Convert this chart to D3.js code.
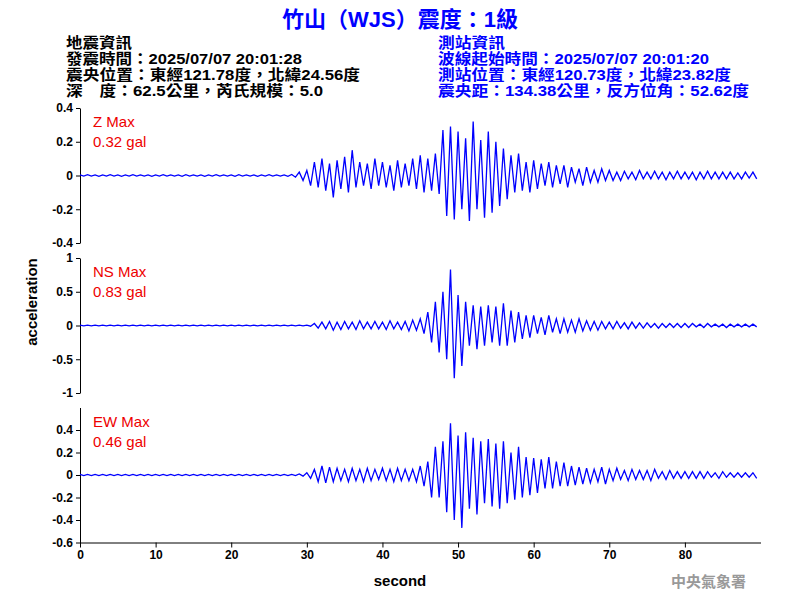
<!DOCTYPE html>
<html><head><meta charset="utf-8">
<script src="https://cdn.jsdelivr.net/npm/d3@7"></script>
<style>body{margin:0;background:#fff}svg{font-family:"Liberation Sans",Arial,"Noto Sans CJK TC",sans-serif}</style>
</head><body><svg id="c" width="800" height="600"></svg>
<script>
const xTicks=[0,10,20,30,40,50,60,70,80];
const dt=0.5;
// peak accelerations, two samples per second (gal)
const zVals=[
.004,-.003,.005,-.004,.003,-.005,.004,-.004,.005,-.003,.004,-.005,.003,-.004,.005,-.003,.004,-.004,.003,-.005,
.004,-.003,.005,-.004,.003,-.004,.004,-.005,.005,-.003,.004,-.004,.003,-.005,.004,-.003,.005,-.004,.003,-.004,
.004,-.005,.005,-.003,.004,-.004,.003,-.005,.004,-.003,.005,-.004,.003,-.004,.004,-.005,.006,-.01,.02,-.03,
.03,-.06,.08,-.07,.1,-.09,.07,-.13,.09,-.08,.11,-.1,.15,-.07,.08,-.06,.07,-.08,.1,-.06,
.08,-.07,.06,-.09,.09,-.07,.07,-.06,.1,-.08,.12,-.1,.1,-.09,.13,-.11,.27,-.24,.29,-.26,
.26,-.2,.22,-.27,.32,-.2,.21,-.25,.26,-.22,.2,-.18,.16,-.14,.12,-.1,.13,-.09,.08,-.1,
.09,-.08,.07,-.06,.08,-.07,.06,-.05,.06,-.07,.05,-.04,.04,-.06,.05,-.04,.03,-.04,.04,-.03,
.03,-.03,.02,-.03,.025,-.02,.02,-.025,.03,-.02,.02,-.02,.025,-.02,.02,-.025,.02,-.02,.025,-.02,
.02,-.02,.02,-.025,.02,-.02,.025,-.02,.02,-.02,.02,-.02,.02,-.02,.015,-.02,.02,-.015,.02,-.02];
const nsVals=[
.005,-.004,.004,-.005,.005,-.004,.004,-.005,.005,-.004,.004,-.005,.005,-.004,.004,-.005,.005,-.004,.004,-.005,
.005,-.004,.004,-.005,.005,-.004,.004,-.005,.005,-.004,.004,-.005,.005,-.004,.004,-.005,.005,-.004,.004,-.005,
.005,-.004,.004,-.005,.005,-.004,.004,-.005,.005,-.004,.004,-.005,.005,-.004,.004,-.005,.005,-.004,.004,-.005,
.006,-.01,.03,-.04,.05,-.05,.06,-.07,.05,-.06,.06,-.05,.05,-.06,.07,-.05,.05,-.05,.06,-.05,
.05,-.06,.07,-.05,.05,-.06,.06,-.08,.08,-.07,.1,-.12,.2,-.25,.35,-.4,.5,-.5,.83,-.78,
.45,-.6,.35,-.3,.3,-.35,.28,-.3,.3,-.25,.28,-.3,.33,-.3,.22,-.25,.2,-.2,.15,-.18,
.15,-.12,.12,-.14,.15,-.1,.1,-.12,.1,-.1,.08,-.1,.1,-.08,.07,-.07,.06,-.07,.06,-.05,
.05,-.05,.06,-.04,.04,-.05,.05,-.04,.04,-.04,.04,-.03,.03,-.04,.03,-.03,.03,-.03,.03,-.03,
.03,-.03,.03,-.02,.02,-.03,.03,-.02,.02,-.02,.02,-.03,.02,-.02,.02,-.02,.02,-.02,.02,-.02];
const ewVals=[
.006,-.005,.005,-.006,.006,-.005,.005,-.006,.006,-.005,.005,-.006,.006,-.005,.005,-.006,.006,-.005,.005,-.006,
.006,-.005,.005,-.006,.006,-.005,.005,-.006,.006,-.005,.005,-.006,.006,-.005,.005,-.006,.006,-.005,.005,-.006,
.006,-.005,.005,-.006,.006,-.005,.005,-.006,.006,-.005,.005,-.006,.006,-.005,.005,-.006,.006,-.005,.01,-.01,
.02,-.03,.05,-.06,.08,-.07,.07,-.06,.06,-.05,.05,-.06,.06,-.05,.05,-.06,.06,-.05,.05,-.04,
.06,-.05,.05,-.06,.06,-.05,.05,-.05,.05,-.06,.08,-.1,.12,-.2,.25,-.2,.3,-.33,.46,-.4,
.35,-.47,.38,-.3,.33,-.35,.3,-.25,.32,-.28,.28,-.3,.3,-.25,.2,-.22,.25,-.2,.16,-.18,
.15,-.16,.14,-.12,.16,-.12,.12,-.1,.11,-.1,.08,-.09,.07,-.08,.06,-.07,.05,-.06,.07,-.08,
.05,-.05,.06,-.04,.04,-.05,.05,-.04,.04,-.04,.04,-.05,.05,-.03,.03,-.04,.04,-.03,.03,-.03,
.03,-.03,.03,-.03,.03,-.03,.03,-.02,.02,-.03,.03,-.02,.02,-.02,.02,-.02,.02,-.02,.02,-.03];
const panels=[
 {name:"Z Max",max:"0.32 gal",vals:zVals,dom:[-0.4,0.4],ticks:[-0.4,-0.2,0,0.2,0.4],top:108,bot:243},
 {name:"NS Max",max:"0.83 gal",vals:nsVals,dom:[-1,1],ticks:[-1,-0.5,0,0.5,1],top:258,bot:393},
 {name:"EW Max",max:"0.46 gal",vals:ewVals,dom:[-0.6,0.6],ticks:[-0.6,-0.4,-0.2,0,0.2,0.4],top:407.5,bot:542.5}
];
const svg=d3.select("#c");
const x=d3.scaleLinear().domain([0,90]).range([80,760.5]);
svg.append("text").attr("x",400).attr("y",27).attr("text-anchor","middle").attr("fill","#0000ff")
 .attr("font-size",22).attr("font-weight","bold").text("竹山（WJS）震度：1級");
const left=["地震資訊","發震時間：2025/07/07 20:01:28","震央位置：東經121.78度，北緯24.56度","深　度：62.5公里，芮氏規模：5.0"];
const right=["測站資訊","波線起始時間：2025/07/07 20:01:20","測站位置：東經120.73度，北緯23.82度","震央距：134.38公里，反方位角：52.62度"];
const leftW=[66,236,294,257], rightW=[67,271,293,311];
left.forEach((t,i)=>svg.append("text").attr("x",66).attr("y",48+i*16).attr("font-size",14.5).attr("font-weight","bold")
 .attr("textLength",leftW[i]).attr("lengthAdjust","spacingAndGlyphs").attr("fill","#000").text(t));
right.forEach((t,i)=>svg.append("text").attr("x",438).attr("y",48+i*16).attr("font-size",14.5).attr("font-weight","bold")
 .attr("textLength",rightW[i]).attr("lengthAdjust","spacingAndGlyphs").attr("fill","#0000ff").text(t));
panels.forEach((p,k)=>{
 const y=d3.scaleLinear().domain(p.dom).range([p.bot,p.top]);
 const g=svg.append("g").attr("transform","translate(80,0)");
 g.call(d3.axisLeft(y).tickValues(p.ticks).tickFormat(d=>String(d)).tickSize(4).tickSizeOuter(0));
 g.selectAll("text").attr("font-size",12).attr("font-weight","bold").attr("fill","#000").attr("font-family","Liberation Sans");
 const line=d3.line().x((d,i)=>x(i*dt)).y(d=>y(d));
 svg.append("path").datum(p.vals).attr("d",line).attr("fill","none").attr("stroke","#0000ff").attr("stroke-width",1.3);
 svg.append("text").attr("x",93).attr("y",p.top+19).attr("fill","#ee0000").attr("font-size",15).text(p.name);
 svg.append("text").attr("x",93).attr("y",p.top+39).attr("fill","#ee0000").attr("font-size",15).text(p.max);
});
const ax=svg.append("g").attr("transform","translate(0,542.5)")
 .call(d3.axisBottom(x).tickValues(xTicks).tickSize(5).tickSizeOuter(0));
ax.selectAll("text").attr("font-size",12).attr("font-weight","bold").attr("fill","#000");
svg.append("text").attr("x",400).attr("y",586).attr("text-anchor","middle").attr("font-size",15).attr("font-weight","bold").text("second");
svg.append("text").attr("transform","translate(37,302) rotate(-90)").attr("text-anchor","middle").attr("font-size",15).attr("font-weight","bold").text("acceleration");
svg.append("text").attr("x",746).attr("y",587).attr("text-anchor","end").attr("font-size",15).attr("font-weight","bold").attr("fill","#999").attr("font-family","Noto Sans CJK TC").text("中央氣象署");
</script></body></html>
